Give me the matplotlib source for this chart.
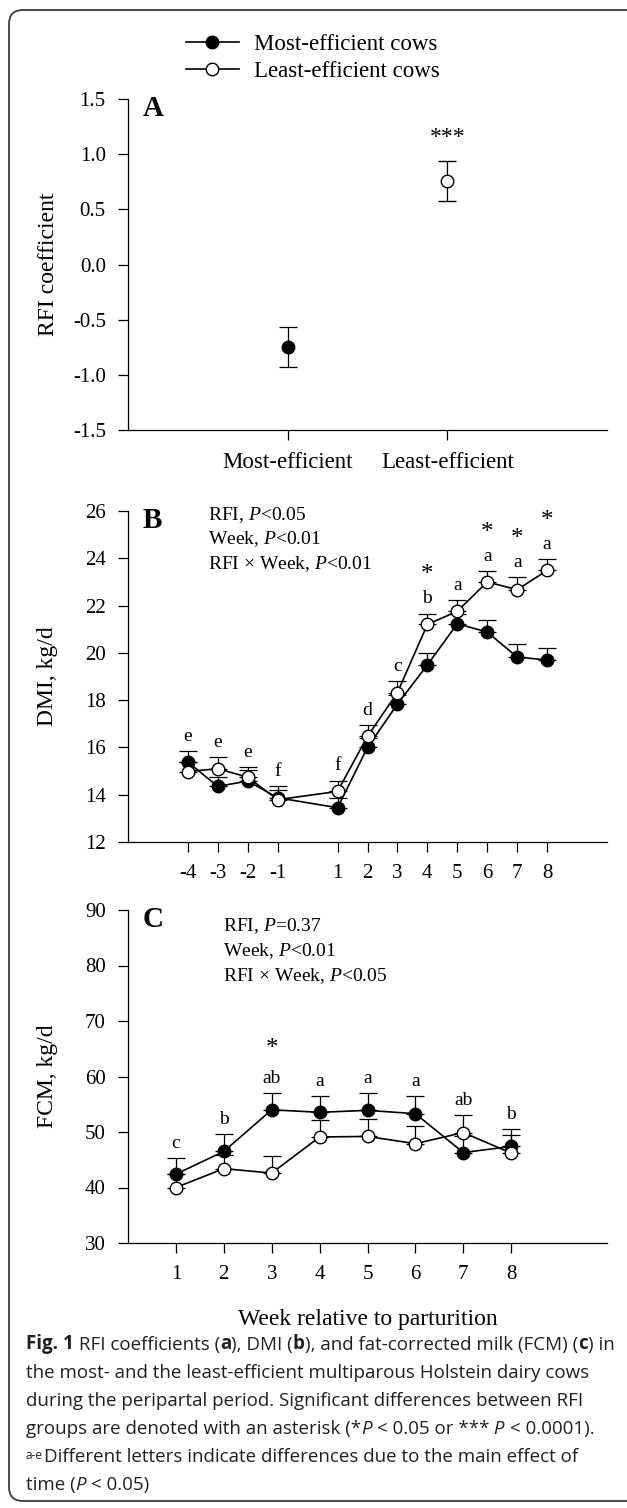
import numpy as np
import matplotlib
matplotlib.use('Agg')
import matplotlib.pyplot as plt
from matplotlib.lines import Line2D
from matplotlib.patches import FancyBboxPatch

plt.rcParams['font.family'] = ['Liberation Serif', 'DejaVu Serif']
plt.rcParams['axes.unicode_minus'] = False
plt.rcParams['mathtext.fontset'] = 'custom'
plt.rcParams['mathtext.rm'] = 'Liberation Serif'
plt.rcParams['mathtext.it'] = 'Liberation Serif:italic'
plt.rcParams['mathtext.bf'] = 'Liberation Serif:bold'

# --- panel A: RFI coefficient
groups = ['Most-efficient', 'Least-efficient']
rfi = [-0.75, 0.76]
rfiSe = [0.18, 0.18]

# --- panel B: DMI, kg/d
weeksB = [-4, -3, -2, -1, 1, 2, 3, 4, 5, 6, 7, 8]
dmiMost = [15.38, 14.35, 14.58, 13.87, 13.45, 16.0, 17.83, 19.49, 21.23, 20.88, 19.82, 19.7]
dmiMostSe = [0.45, 0.40, 0.47, 0.48, 0.40, 0.40, 0.40, 0.50, 0.40, 0.52, 0.57, 0.50]
dmiLeast = [14.98, 15.1, 14.74, 13.79, 14.14, 16.47, 18.32, 21.2, 21.76, 23.0, 22.67, 23.49]
dmiLeastSe = [0.40, 0.48, 0.42, 0.40, 0.46, 0.48, 0.49, 0.46, 0.48, 0.45, 0.52, 0.46]
dmiLetters = ['e', 'e', 'e', 'f', 'f', 'd', 'c', 'b', 'a', 'a', 'a', 'a']
dmiStars = [4, 6, 7, 8]

# --- panel C: FCM, kg/d
weeksC = [1, 2, 3, 4, 5, 6, 7, 8]
fcmMost = [42.4, 46.5, 54.0, 53.55, 53.9, 53.3, 46.3, 47.4]
fcmMostSe = [3.0, 3.2, 3.0, 3.0, 3.1, 3.15, 3.0, 3.1]
fcmLeast = [40.0, 43.4, 42.6, 49.1, 49.2, 47.9, 49.9, 46.2]
fcmLeastSe = [2.5, 2.5, 3.1, 3.1, 3.1, 3.2, 3.2, 3.3]
fcmLetters = ['c', 'b', 'ab', 'a', 'a', 'a', 'ab', 'b']
fcmStars = [3]

W, H = 627, 1508
fig = plt.figure(figsize=(W / 100, H / 100), dpi=100)

# rounded frame round the whole figure (right side runs off the picture)
frame = FancyBboxPatch((0.09, 0.07), 6.6, 14.91, boxstyle='round,pad=0,rounding_size=0.14',
                       transform=fig.dpi_scale_trans, fill=False, ec='#3a3a3a', lw=1.3)
fig.patches.append(frame)


def makeAxes(top, bottom):
    ax = fig.add_axes([128 / W, 1 - bottom / H, 479 / W, (bottom - top) / H])
    for s in ['top', 'right']:
        ax.spines[s].set_visible(False)
    for s in ['left', 'bottom']:
        ax.spines[s].set_linewidth(0.9)
    ax.tick_params(direction='out', length=7, width=0.9, pad=9, labelsize=15)
    return ax


def drawSeries(ax, x, y, se, face, both=False):
    se = np.array(se)
    yerr = se if both else [np.zeros_like(se), se]
    ax.errorbar(x, y, yerr=yerr, fmt='none', ecolor='black', elinewidth=0.9,
                capsize=6.5, capthick=0.9)
    ax.plot(x, y, color='black', lw=1.2, marker='o', ms=9, mfc=face, mec='black', mew=1.0)


# ---------------- A
axA = makeAxes(99, 430)
xa = [1, 2]
axA.errorbar(xa[0], rfi[0], yerr=rfiSe[0], fmt='o', color='black', ms=9, mfc='black',
             elinewidth=0.9, capsize=6.5, capthick=0.9)
axA.errorbar(xa[1], rfi[1], yerr=rfiSe[1], fmt='o', color='black', ms=9, mfc='white',
             mew=1.0, elinewidth=0.9, capsize=6.5, capthick=0.9)
axA.set_xlim(0, 3)
axA.set_ylim(-1.5, 1.5)
axA.set_yticks(np.arange(-1.5, 1.51, 0.5))
axA.set_yticklabels([f"{v:.1f}" for v in np.arange(-1.5, 1.51, 0.5)])
axA.set_xticks(xa)
axA.set_xticklabels(groups, fontsize=16.5)
axA.set_ylabel('RFI coefficient', fontsize=17, va='center')
axA.yaxis.set_label_coords(-80 / 479, 0.5)
axA.text(xa[1], rfi[1] + rfiSe[1] + 0.21, '***', ha='center', va='center', fontsize=17)
axA.text(0.03, 0.97, 'A', transform=axA.transAxes, fontsize=21, fontweight='bold', va='center')

# legend above panel A
handles = [Line2D([], [], color='black', lw=1.2, marker='o', ms=9, mfc='black'),
           Line2D([], [], color='black', lw=1.2, marker='o', ms=9, mfc='white')]
fig.legend(handles, ['Most-efficient cows', 'Least-efficient cows'], loc='upper left',
           bbox_to_anchor=(186 / W, 1 - 34 / H), frameon=False, fontsize=16.5, borderpad=0,
           borderaxespad=0, handlelength=2.3, handletextpad=0.65, labelspacing=0.25)

# ---------------- B
axB = makeAxes(511, 842)
drawSeries(axB, weeksB, dmiMost, dmiMostSe, 'black')
drawSeries(axB, weeksB, dmiLeast, dmiLeastSe, 'white')
axB.set_xlim(-6, 10)
axB.set_ylim(12, 26)
axB.set_yticks(range(12, 27, 2))
axB.set_xticks(weeksB)
axB.set_ylabel('DMI, kg/d', fontsize=17, va='center')
axB.yaxis.set_label_coords(-80 / 479, 0.5)
topsB = np.maximum(np.array(dmiMost) + dmiMostSe, np.array(dmiLeast) + dmiLeastSe)
for wk, lt, tp in zip(weeksB, dmiLetters, topsB):
    axB.text(wk, tp + 0.62, lt, ha='center', va='center', fontsize=14)
    if wk in dmiStars:
        axB.text(wk, tp + 1.62, '*', ha='center', va='center', fontsize=18)
axB.text(0.03, 0.97, 'B', transform=axB.transAxes, fontsize=21, fontweight='bold', va='center')
for i, s in enumerate(['RFI, $P$<0.05', 'Week, $P$<0.01', 'RFI × Week, $P$<0.01']):
    axB.text(0.167, 0.988 - i * 0.074, s, transform=axB.transAxes, fontsize=14, va='center')

# ---------------- C
axC = makeAxes(910, 1243)
drawSeries(axC, weeksC, fcmMost, fcmMostSe, 'black')
drawSeries(axC, weeksC, fcmLeast, fcmLeastSe, 'white')
axC.set_xlim(0, 10)
axC.set_ylim(30, 90)
axC.set_yticks(range(30, 91, 10))
axC.set_xticks(weeksC)
axC.set_ylabel('FCM, kg/d', fontsize=17, va='center')
axC.yaxis.set_label_coords(-80 / 479, 0.5)
axC.set_xlabel('Week relative to parturition', fontsize=17, va='center')
axC.xaxis.set_label_coords(0.5, -76 / 333)
topsC = np.maximum(np.array(fcmMost) + fcmMostSe, np.array(fcmLeast) + fcmLeastSe)
for wk, lt, tp in zip(weeksC, fcmLetters, topsC):
    axC.text(wk, tp + 2.6, lt, ha='center', va='center', fontsize=14)
    if wk in fcmStars:
        axC.text(wk, tp + 8.0, '*', ha='center', va='center', fontsize=18)
axC.text(0.03, 0.97, 'C', transform=axC.transAxes, fontsize=21, fontweight='bold', va='center')
for i, s in enumerate(['RFI, $P$=0.37', 'Week, $P$<0.01', 'RFI × Week, $P$<0.05']):
    axC.text(0.198, 0.953 - i * 0.076, s, transform=axC.transAxes, fontsize=14, va='center')

# ---------------- caption (rich text pieces chained one after another)
capAx = fig.add_axes([0, 0, 1, 1])
capAx.axis('off')
capFont = dict(family=['Open Sans', 'DejaVu Sans'], fontsize=13.5, color='#231f20')
R, B, I = 'normal', 'bold', 'italic'
captionLines = [
    [('Fig. 1', B), (' RFI coefficients (', R), ('a', B), ('), DMI (', R), ('b', B),
     ('), and fat-corrected milk (FCM) (', R), ('c', B), (') in', R)],
    [('the most- and the least-efficient multiparous Holstein dairy cows', R)],
    [('during the peripartal period. Significant differences between RFI', R)],
    [('groups are denoted with an asterisk (*', R), ('P', I), (' < 0.05 or ***', R),
     (' P', I), (' < 0.0001).', R)],
    [('Different letters indicate differences due to the main effect of', R)],
    [('time (', R), ('P', I), (' < 0.05)', R)],
]


def pieceStyle(kind):
    st = dict(capFont)
    if kind == B:
        st['fontweight'] = 'bold'
    if kind == I:
        st['fontstyle'] = 'italic'
    return st


for n, line in enumerate(captionLines):
    yb = 1 - (1354 + n * 28) / H
    x0 = 26 / W if n != 4 else 44 / W
    t = capAx.text(x0, yb, line[0][0], va='bottom', **pieceStyle(line[0][1]))
    if n == 4:
        capAx.annotate('a-e', xy=(-0.003, 0.93), xycoords=t, ha='right', va='top',
                       **dict(capFont, fontsize=8.5))
    for txt, kind in line[1:]:
        t = capAx.annotate(txt, xy=(1, 0), xycoords=t, va='bottom', **pieceStyle(kind))

fig.savefig('out.png', dpi=100)
